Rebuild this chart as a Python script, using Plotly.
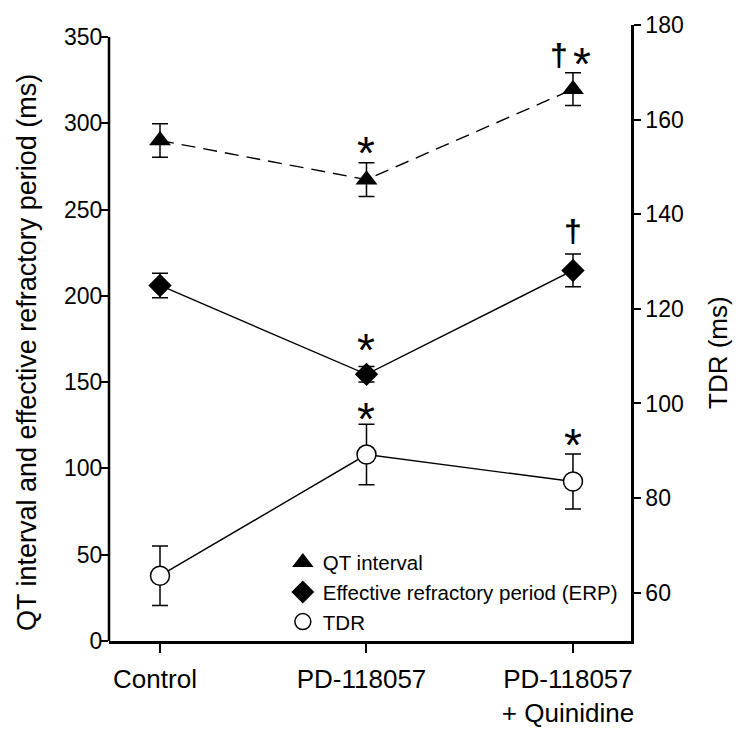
import plotly.graph_objects as go

# ---- data ----
categories = ["Control", "PD-118057", "PD-118057<br>+ Quinidine"]
qt_mean = [290, 267.3, 319.7]
qt_err = [9.7, 9.8, 9.5]
erp_mean = [206, 154.5, 214.7]
erp_err = [7.1, 4.5, 9.5]
tdr_mean = [63.6, 89.2, 83.5]
tdr_err = [6.3, 6.4, 5.8]
left_ticks = [0, 50, 100, 150, 200, 250, 300, 350]
right_ticks = [60, 80, 100, 120, 140, 160, 180]

FONT = "Liberation Sans, Arial, Helvetica, sans-serif"
xs = list(range(len(categories)))

fig = go.Figure()

ebar = dict(type="data", color="black", thickness=1.5, width=8)
fig.add_trace(go.Scatter(
    x=xs, y=qt_mean, name="QT interval", mode="lines+markers", showlegend=False,
    line=dict(color="black", width=1.4, dash="14px,8px"),
    marker=dict(symbol="triangle-up", size=19, color="black"),
    error_y=dict(array=qt_err, **ebar),
))
fig.add_trace(go.Scatter(
    x=xs, y=erp_mean, name="Effective refractory period (ERP)", mode="lines+markers",
    showlegend=False, line=dict(color="black", width=1.4),
    marker=dict(symbol="diamond", size=18, color="black"),
    error_y=dict(array=erp_err, **ebar),
))
fig.add_trace(go.Scatter(
    x=xs, y=tdr_mean, name="TDR", mode="lines+markers", yaxis="y2", showlegend=False,
    line=dict(color="black", width=1.4),
    marker=dict(symbol="circle", size=19, color="white", line=dict(color="black", width=1.5)),
    error_y=dict(array=tdr_err, **ebar),
))

# legend entries (markers only, as in the original key)
for name, sym, col in [("QT interval", "triangle-up", "black"),
                       ("Effective refractory period (ERP)", "diamond", "black"),
                       ("TDR", "circle", "white")]:
    fig.add_trace(go.Scatter(
        x=[None], y=[None], name=name, mode="markers", showlegend=True,
        marker=dict(symbol=sym, size=18, color=col, line=dict(color="black", width=1.5)),
    ))

# significance symbols: (category, series, text, size, bold, yshift px, xshift px)
sig = [
    (1, "qt", "*", 46, False, 10, 0),
    (1, "erp", "*", 46, False, 17, 0),
    (1, "tdr", "*", 46, False, 5, 0),
    (2, "tdr", "*", 46, False, 9, 0),
    (2, "erp", "†", 32, True, 23, 0),
    (2, "qt", "†", 32, True, 18, -14),
    (2, "qt", "*", 46, False, 9, 9),
]
series = {"qt": (qt_mean, qt_err, "y"), "erp": (erp_mean, erp_err, "y"),
          "tdr": (tdr_mean, tdr_err, "y2")}
ann = []
for i, s, t, size, bold, ysh, xsh in sig:
    m, e, yref = series[s]
    ann.append(dict(x=xs[i], y=m[i] + e[i], xref="x", yref=yref,
                    text=f"<b>{t}</b>" if bold else t,
                    showarrow=False, xanchor="center", yanchor="middle",
                    yshift=ysh, xshift=xsh,
                    font=dict(family=FONT, size=size, color="black")))

W, H = 750, 740
L, R, T, B = 109, 119, 25, 90
PW = W - L - R

# axis titles
ann.append(dict(x=-(L - 27) / PW, y=0.5, xref="paper", yref="paper",
                text="QT interval and effective refractory period (ms)", textangle=-90,
                showarrow=False, xanchor="center", yanchor="middle", yshift=-20,
                font=dict(family=FONT, size=27, color="black")))
ann.append(dict(x=1 + (718 - 631) / PW, y=0.5, xref="paper", yref="paper",
                text="TDR (ms)", textangle=-90, showarrow=False,
                xanchor="center", yanchor="middle", yshift=-20,
                font=dict(family=FONT, size=26, color="black")))

fig.update_layout(
    width=W, height=H,
    margin=dict(l=L, r=R, t=T, b=B),
    paper_bgcolor="white", plot_bgcolor="white",
    font=dict(family=FONT, color="black"),
    showlegend=True,
    legend=dict(x=0.333, y=0.16, xanchor="left", yanchor="top",
                bgcolor="rgba(0,0,0,0)", font=dict(family=FONT, size=20.5),
                tracegroupgap=0, itemsizing="trace"),
    xaxis=dict(range=[-0.247, 2.281], tickvals=xs, ticktext=categories,
               showline=True, linecolor="black", linewidth=2.5,
               ticks="outside", ticklen=9, tickwidth=2, tickcolor="black",
               ticklabelshift=-5, ticklabelstandoff=4,
               showgrid=False, zeroline=False,
               tickfont=dict(family=FONT, size=26)),
    yaxis=dict(range=[0, 356.9], tickvals=left_ticks,
               showline=False, ticks="outside", ticklen=7, tickwidth=2, tickcolor="black",
               ticklabelstandoff=-6,
               showgrid=False, zeroline=False, tickfont=dict(family=FONT, size=23)),
    yaxis2=dict(range=[49.8, 180], overlaying="y", side="right",
                tickvals=right_ticks,
                showline=True, linecolor="black", linewidth=2.5,
                ticks="outside", ticklen=7, tickwidth=2, tickcolor="black",
                showgrid=False, zeroline=False, tickfont=dict(family=FONT, size=23)),
    annotations=ann,
    shapes=[dict(type="line", xref="paper", yref="y", x0=0, x1=0, y0=0, y1=350,
                 line=dict(color="black", width=2.5))],
)

# remove the browser's default 8px body margin so the figure fills the window exactly
fig.write_html("out.html", config={"displayModeBar": False},
               post_script="document.body.style.margin='0px';")
